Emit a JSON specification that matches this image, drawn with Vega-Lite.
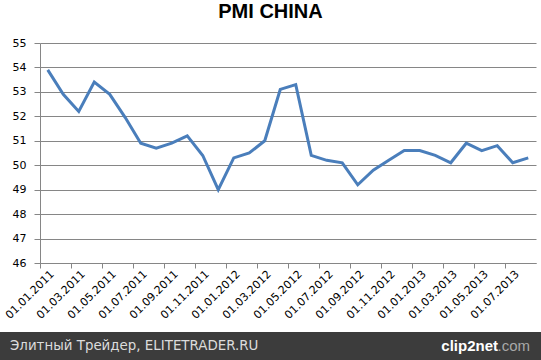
{
  "$schema": "https://vega.github.io/schema/vega-lite/v6.json",
  "padding": {"top": 2, "left": 0, "right": 0, "bottom": 0},
  "background": "white",
  "title": {"text": "PMI CHINA", "font": "Liberation Sans", "fontSize": 20, "fontWeight": "bold", "color": "#000000", "anchor": "middle", "frame": "bounds", "offset": 15},
  "config": {"view": {"stroke": null}, "font": "DejaVu Sans"},
  "columns": 2,
  "align": "each",
  "bounds": "flush",
  "spacing": {"column": 0, "row": 69},
  "concat": [
    {
      "width": 40,
      "height": 220,
      "data": {"values": []},
      "mark": {"type": "text"},
      "encoding": {}
    },
    {
      "width": 496,
      "height": 220,
      "data": {"values": [
        {"date": "01.01.2011", "pmi": 53.9},
        {"date": "01.02.2011", "pmi": 52.9},
        {"date": "01.03.2011", "pmi": 52.2},
        {"date": "01.04.2011", "pmi": 53.4},
        {"date": "01.05.2011", "pmi": 52.9},
        {"date": "01.06.2011", "pmi": 51.95},
        {"date": "01.07.2011", "pmi": 50.9},
        {"date": "01.08.2011", "pmi": 50.7},
        {"date": "01.09.2011", "pmi": 50.9},
        {"date": "01.10.2011", "pmi": 51.2},
        {"date": "01.11.2011", "pmi": 50.4},
        {"date": "01.12.2011", "pmi": 49.0},
        {"date": "01.01.2012", "pmi": 50.3},
        {"date": "01.02.2012", "pmi": 50.5},
        {"date": "01.03.2012", "pmi": 51.0},
        {"date": "01.04.2012", "pmi": 53.1},
        {"date": "01.05.2012", "pmi": 53.3},
        {"date": "01.06.2012", "pmi": 50.4},
        {"date": "01.07.2012", "pmi": 50.2},
        {"date": "01.08.2012", "pmi": 50.1},
        {"date": "01.09.2012", "pmi": 49.2},
        {"date": "01.10.2012", "pmi": 49.8},
        {"date": "01.11.2012", "pmi": 50.2},
        {"date": "01.12.2012", "pmi": 50.6},
        {"date": "01.01.2013", "pmi": 50.6},
        {"date": "01.02.2013", "pmi": 50.4},
        {"date": "01.03.2013", "pmi": 50.1},
        {"date": "01.04.2013", "pmi": 50.9},
        {"date": "01.05.2013", "pmi": 50.6},
        {"date": "01.06.2013", "pmi": 50.8},
        {"date": "01.07.2013", "pmi": 50.1},
        {"date": "01.08.2013", "pmi": 50.3}
      ]},
      "mark": {"type": "line", "color": "#4a7ebb", "strokeWidth": 3, "strokeJoin": "miter"},
      "encoding": {
        "x": {
          "field": "date", "type": "ordinal", "sort": null,
          "scale": {"type": "point", "padding": 0.5},
          "axis": {
            "title": null,
            "values": ["01.01.2011","01.03.2011","01.05.2011","01.07.2011","01.09.2011","01.11.2011","01.01.2012","01.03.2012","01.05.2012","01.07.2012","01.09.2012","01.11.2012","01.01.2013","01.03.2013","01.05.2013","01.07.2013"],
            "labelAngle": -45,
            "labelFontSize": 11,
            "labelColor": "#000000",
            "labelPadding": 0,
            "labelOverlap": false,
            "labelBound": false,
            "tickOffset": -7.75,
            "labelOffset": 7.75,
            "tickSize": 5,
            "tickColor": "#868686",
            "domainColor": "#868686",
            "grid": false
          }
        },
        "y": {
          "field": "pmi", "type": "quantitative",
          "scale": {"domain": [46, 55], "nice": false, "zero": false},
          "axis": {
            "title": null,
            "values": [46,47,48,49,50,51,52,53,54,55],
            "labelFontSize": 11,
            "labelColor": "#000000",
            "labelPadding": 8,
            "tickSize": 6,
            "tickColor": "#868686",
            "domainColor": "#868686",
            "gridColor": "#868686",
            "gridOpacity": 1
          }
        }
      }
    },
    {
      "width": 40,
      "height": 28,
      "view": {"fill": "#3c3c3c", "stroke": null},
      "data": {"values": []},
      "mark": {"type": "text"},
      "encoding": {}
    },
    {
      "width": 501,
      "height": 28,
      "view": {"fill": "#3c3c3c", "stroke": null},
      "layer": [
        {
          "data": {"values": [{"side": "left", "label": "Элитный Трейдер, ELITETRADER.RU"}]},
          "mark": {"type": "text", "align": "left", "baseline": "middle", "font": "DejaVu Sans", "fontSize": 13.4, "color": "#dcdcdc", "dx": -30},
          "encoding": {
            "x": {"field": "side", "type": "nominal", "scale": {"type": "point", "domain": ["left", "right"], "padding": 0}, "axis": null},
            "text": {"field": "label"}
          }
        },
        {
          "data": {"values": [{"side": "right", "label": ".com"}]},
          "mark": {"type": "text", "align": "right", "baseline": "middle", "font": "Liberation Sans", "fontSize": 15, "color": "#a8a8a8", "dx": -11},
          "encoding": {
            "x": {"field": "side", "type": "nominal", "scale": {"type": "point", "domain": ["left", "right"], "padding": 0}, "axis": null},
            "text": {"field": "label"}
          }
        },
        {
          "data": {"values": [{"side": "right", "label": "clip2net"}]},
          "mark": {"type": "text", "align": "right", "baseline": "middle", "font": "Liberation Sans", "fontSize": 15, "fontWeight": "bold", "color": "#ffffff", "dx": -43},
          "encoding": {
            "x": {"field": "side", "type": "nominal", "scale": {"type": "point", "domain": ["left", "right"], "padding": 0}, "axis": null},
            "text": {"field": "label"}
          }
        }
      ]
    }
  ]
}
